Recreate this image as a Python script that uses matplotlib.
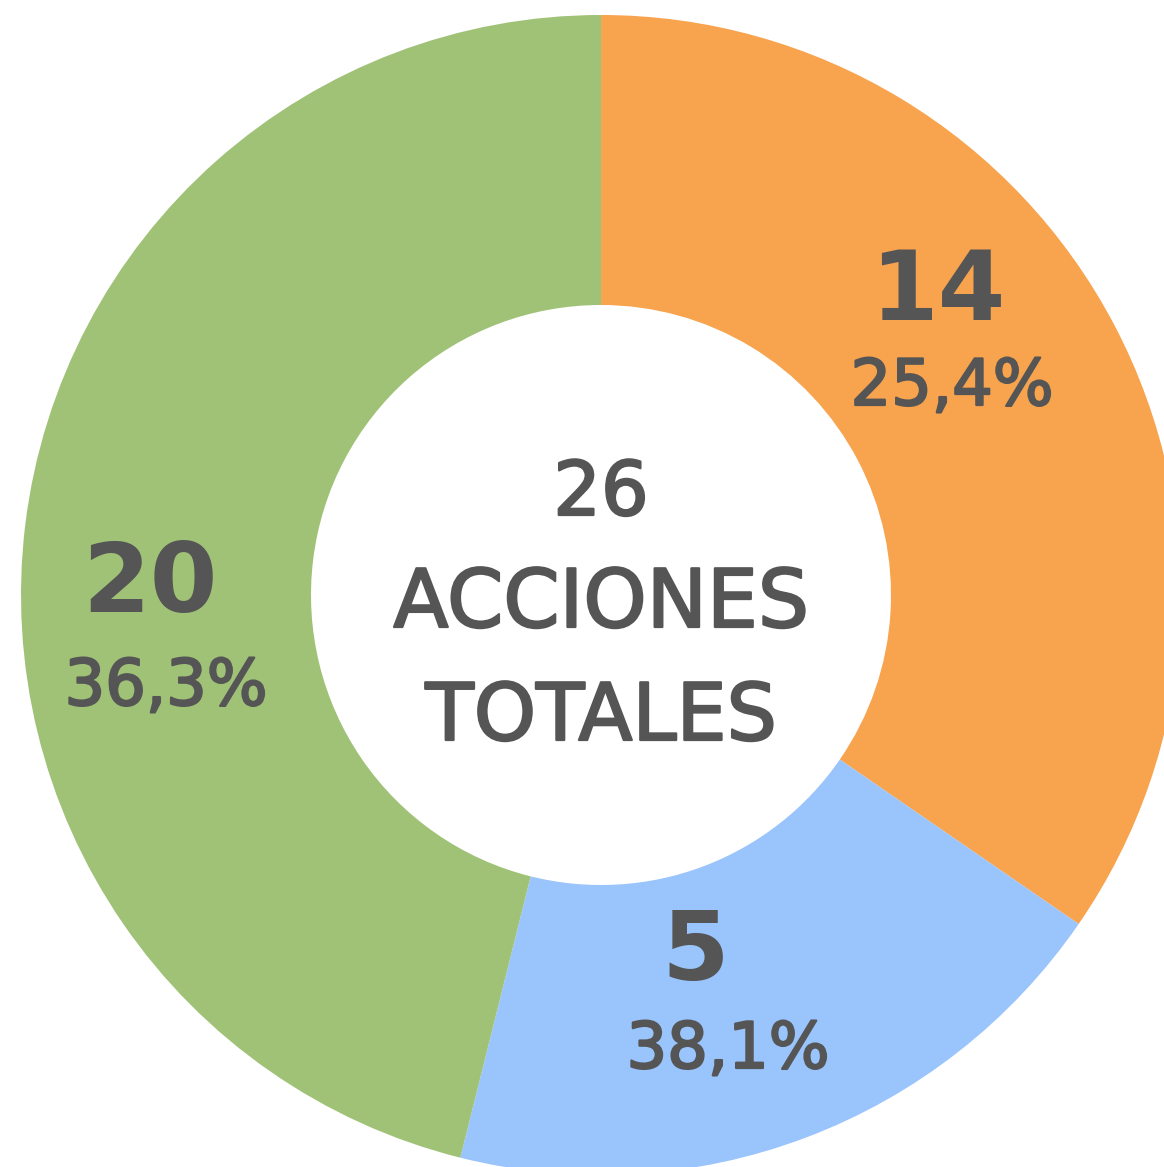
import matplotlib
matplotlib.use("Agg")
import matplotlib.pyplot as plt
import matplotlib.patheffects as pe

# slice data (angular shares, clockwise from the top)
categories = ["naranja", "azul", "verde"]
shares = [34.6, 19.3, 46.1]
counts = ["14", "5", "20"]
percents = ["25,4%", "38,1%", "36,3%"]
colors = ["#F8A34E", "#99C4FC", "#A0C277"]
center_lines = ["26", "ACCIONES", "TOTALES"]

TEXT = "#555555"
W, H = 1164, 1167

fig = plt.figure(figsize=(W / 100, H / 100), dpi=100)
ax = fig.add_axes([0, 0, 1, 1])

# pixel-like coordinates, y measured from the bottom
cx, cy = 601, H - 595
ax.pie(shares, colors=colors, startangle=90, counterclock=False,
       center=(cx, cy), radius=580,
       wedgeprops=dict(width=290, linewidth=0))
ax.set_xlim(0, W)
ax.set_ylim(0, H)
ax.set_aspect("auto")
ax.axis("off")

# a little thicker than regular, like a medium weight
medium = [pe.withStroke(linewidth=1.6, foreground=TEXT)]

# label anchors (baseline positions in image pixels)
count_pos = [(938, 320), (695, 980), (150, 612)]
pct_pos = [(952, 405), (728, 1068), (166, 705)]
for c, p, (x1, y1), (x2, y2) in zip(counts, percents, count_pos, pct_pos):
    ax.text(x1, H - y1, c, fontsize=70, fontweight="bold", color=TEXT,
            ha="center", va="baseline")
    ax.text(x2, H - y2, p, fontsize=46, color=TEXT,
            ha="center", va="baseline", path_effects=medium)

center_y = [515, 627, 740]
center_size = [54, 58, 57]
for t, y, s in zip(center_lines, center_y, center_size):
    ax.text(cx, H - y, t, fontsize=s, color=TEXT, ha="center",
            va="baseline", path_effects=medium)

fig.savefig("out.png", dpi=100)
